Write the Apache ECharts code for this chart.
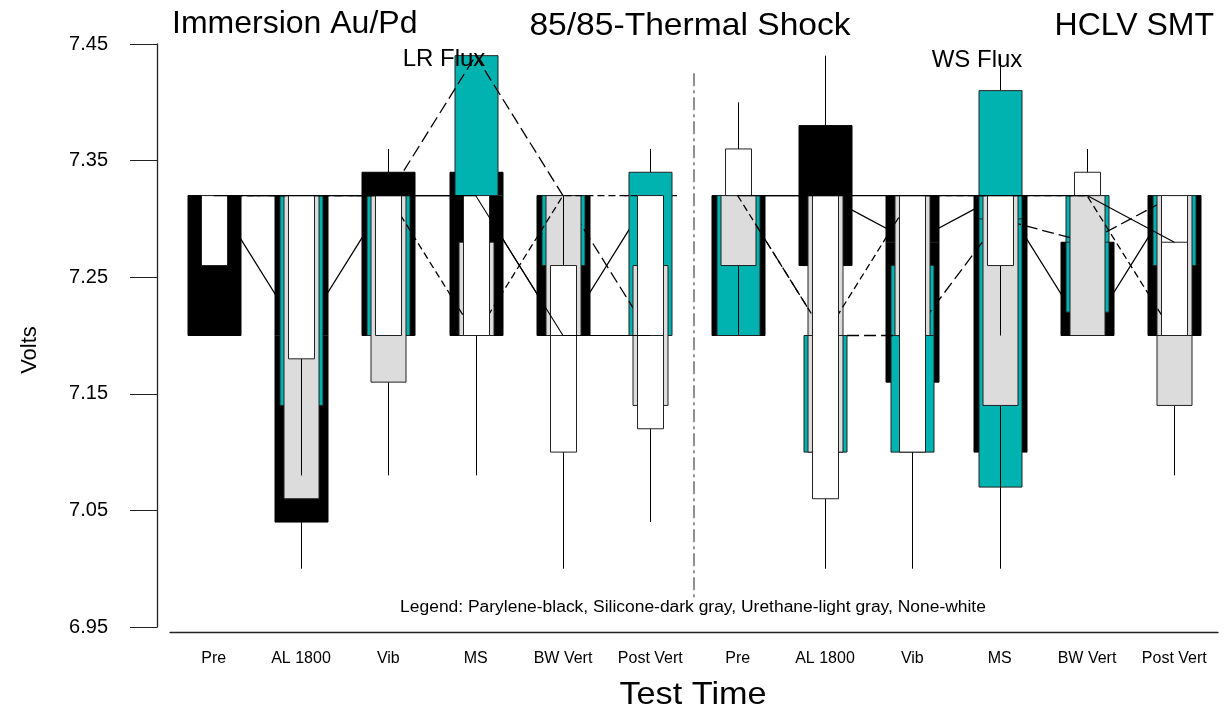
<!DOCTYPE html>
<html>
<head>
<meta charset="utf-8">
<script src="https://cdn.jsdelivr.net/npm/echarts@6/dist/echarts.min.js"></script>
<style>html,body{margin:0;padding:0;background:#fff}#c{width:1227px;height:715px}</style>
</head>
<body>
<div id="c"></div>
<script>
// ---------- data ----------
const categories = ['Pre','AL 1800','Vib','MS','BW Vert','Post Vert','Pre','AL 1800','Vib','MS','BW Vert','Post Vert'];
const yTicks = [6.95, 7.05, 7.15, 7.25, 7.35, 7.45];

// Parylene (black)
const paryQ1  = [7.20, 7.04, 7.20, 7.20, 7.20, 7.32, 7.20, 7.26, 7.16, 7.10, 7.20, 7.20];
const paryQ3  = [7.32, 7.32, 7.34, 7.34, 7.32, 7.32, 7.32, 7.38, 7.32, 7.32, 7.28, 7.32];
const paryMed = [7.32, 7.20, 7.32, 7.32, 7.20, 7.32, 7.32, 7.32, 7.28, 7.32, 7.20, 7.32];
const paryMin = [7.20, 7.00, 7.20, 7.20, 7.20, 7.32, 7.20, 7.26, 7.16, 7.10, 7.20, 7.20];
const paryMax = [7.32, 7.32, 7.36, 7.34, 7.32, 7.32, 7.32, 7.44, 7.32, 7.32, 7.28, 7.32];

// Silicone (teal)
const siliQ1  = [7.32, 7.14, 7.20, 7.32, 7.26, 7.20, 7.20, 7.10, 7.10, 7.07, 7.22, 7.26];
const siliQ3  = [7.32, 7.32, 7.32, 7.44, 7.32, 7.34, 7.32, 7.20, 7.26, 7.41, 7.32, 7.32];
const siliMed = [7.32, 7.32, 7.32, 7.44, 7.32, 7.20, 7.32, 7.20, 7.20, 7.30, 7.28, 7.32];
const siliMin = [7.32, 7.14, 7.20, 7.32, 7.26, 7.20, 7.20, 7.10, 7.10, 7.07, 7.22, 7.26];
const siliMax = [7.32, 7.32, 7.32, 7.44, 7.32, 7.36, 7.32, 7.20, 7.26, 7.44, 7.32, 7.32];

// Urethane (light gray)
const ureQ1  = [7.32, 7.06, 7.16, 7.20, 7.20, 7.14, 7.26, 7.10, 7.20, 7.14, 7.20, 7.14];
const ureQ3  = [7.32, 7.32, 7.32, 7.28, 7.32, 7.26, 7.32, 7.32, 7.32, 7.32, 7.32, 7.32];
const ureMed = [7.32, 7.32, 7.32, 7.20, 7.32, 7.32, 7.32, 7.20, 7.32, 7.32, 7.32, 7.20];
const ureMin = [7.32, 7.06, 7.08, 7.20, 7.20, 7.14, 7.20, 7.10, 7.20, 7.00, 7.20, 7.08];
const ureMax = [7.32, 7.32, 7.32, 7.28, 7.32, 7.26, 7.32, 7.32, 7.32, 7.32, 7.32, 7.32];

// None (white)
const noneQ1  = [7.26, 7.18, 7.20, 7.20, 7.10, 7.12, 7.32, 7.06, 7.10, 7.26, 7.32, 7.20];
const noneQ3  = [7.32, 7.32, 7.32, 7.32, 7.26, 7.32, 7.36, 7.32, 7.32, 7.32, 7.34, 7.32];
const noneMed = [7.32, 7.32, 7.32, 7.32, 7.20, 7.20, 7.32, 7.32, 7.32, 7.32, 7.32, 7.28];
const noneMin = [7.26, 7.08, 7.20, 7.08, 7.00, 7.04, 7.32, 7.00, 7.00, 7.20, 7.32, 7.20];
const noneMax = [7.32, 7.32, 7.32, 7.32, 7.32, 7.32, 7.40, 7.32, 7.32, 7.32, 7.36, 7.32];

// ---------- chart ----------
const FONT = '"Liberation Sans", Arial, sans-serif';
const TEAL = '#00B3B0';
const GRAY = '#DCDCDC';

function boxSeries(name, fill, stroke, widthPx, q1, q3, med, lo, hi, z) {
  const data = categories.map((c, i) => [i, lo[i], q1[i], med[i], q3[i], hi[i]]);
  return {
    type: 'custom', name, xAxisIndex: 1, yAxisIndex: 0, z, data,
    encode: { x: 0, y: [1, 2, 3, 4, 5] },
    renderItem: function (params, api) {
      const x = api.value(0);
      const pLo = api.coord([x, api.value(1)]);
      const pQ1 = api.coord([x, api.value(2)]);
      const pMed = api.coord([x, api.value(3)]);
      const pQ3 = api.coord([x, api.value(4)]);
      const pHi = api.coord([x, api.value(5)]);
      const cx = Math.round(pQ1[0]) + 0.5;
      const hw = widthPx / 2;
      const ch = [];
      const ls = { stroke: '#000', lineWidth: 1 };
      if (pHi[1] < pQ3[1] - 0.5) ch.push({ type: 'line', shape: { x1: cx, y1: pQ3[1], x2: cx, y2: pHi[1] }, style: ls });
      if (pLo[1] > pQ1[1] + 0.5) ch.push({ type: 'line', shape: { x1: cx, y1: pQ1[1], x2: cx, y2: pLo[1] }, style: ls });
      const h = pQ1[1] - pQ3[1];
      if (h < 0.5) {
        ch.push({ type: 'line', shape: { x1: cx - hw, y1: pQ3[1], x2: cx + hw, y2: pQ3[1] }, style: { stroke: '#000', lineWidth: 1.2 } });
      } else {
        ch.push({ type: 'rect', shape: { x: cx - hw, y: pQ3[1], width: widthPx, height: h }, style: { fill: fill, stroke: stroke, lineWidth: 1 } });
        if (pMed[1] > pQ3[1] + 0.5 && pMed[1] < pQ1[1] - 0.5) {
          ch.push({ type: 'line', shape: { x1: cx - hw, y1: pMed[1], x2: cx + hw, y2: pMed[1] }, style: { stroke: '#222', lineWidth: 1 } });
        }
      }
      return { type: 'group', children: ch };
    }
  };
}

function medianLines(med, dash, width, z) {
  const out = [];
  [[0, 6], [6, 12]].forEach(([a, b]) => {
    out.push({
      type: 'line', xAxisIndex: 1, yAxisIndex: 0, z: z, symbol: 'none', silent: true,
      data: med.slice(a, b).map((v, k) => [a + k, v]),
      lineStyle: { color: '#000', width: width, type: dash }
    });
  });
  return out;
}

const half = categories.length / 2 - 0.5;
const dividerTop = 7.425, dividerBottom = 6.975;

const series = [
  boxSeries('Parylene', '#000', '#000', 53, paryQ1, paryQ3, paryMed, paryMin, paryMax, 2),
  ...medianLines(paryMed, 'solid', 1.3, 3),
  boxSeries('Silicone', TEAL, '#222', 43, siliQ1, siliQ3, siliMed, siliMin, siliMax, 4),
  ...medianLines(siliMed, [12, 5], 1.3, 5),
  boxSeries('Urethane', GRAY, '#222', 35, ureQ1, ureQ3, ureMed, ureMin, ureMax, 6),
  ...medianLines(ureMed, [7, 4], 1.3, 7),
  boxSeries('None', '#fff', '#222', 26, noneQ1, noneQ3, noneMed, noneMin, noneMax, 8),
  ...medianLines(noneMed, 'solid', 1.1, 9),
  {
    type: 'line', xAxisIndex: 1, yAxisIndex: 0, z: 1, symbol: 'none', silent: true,
    data: [[half, dividerTop], [half, dividerBottom]],
    lineStyle: { color: '#555', width: 1.3, type: [13, 4, 3, 4] }
  }
];

const chart = echarts.init(document.getElementById('c'), null, { renderer: 'canvas' });
chart.setOption({
  animation: false,
  backgroundColor: '#fff',
  textStyle: { fontFamily: FONT },
  grid: { left: 170, right: 9, top: 44, bottom: 88 },
  xAxis: [
    {
      type: 'category', data: categories, position: 'bottom', offset: 5, boundaryGap: true,
      axisLine: { onZero: false, lineStyle: { color: '#222', width: 1.3 } },
      axisTick: { alignWithLabel: true, length: 14, lineStyle: { color: '#222' } },
      axisLabel: { color: '#000', fontSize: 16, fontFamily: FONT, margin: 19, interval: 0 },
      splitLine: { show: false }
    },
    { type: 'value', min: -0.5, max: categories.length - 0.5, show: false, axisLine: { onZero: false } }
  ],
  yAxis: {
    type: 'value', min: yTicks[0], max: yTicks[yTicks.length - 1], interval: 0.1, offset: 13, position: 'left',
    axisLine: { show: true, onZero: false, lineStyle: { color: '#222', width: 1.3 } },
    axisTick: { show: true, length: 27, lineStyle: { color: '#222' } },
    axisLabel: { color: '#000', fontSize: 20, fontFamily: FONT, margin: 49, formatter: v => v.toFixed(2) },
    splitLine: { show: false }
  },
  graphic: [
    { type: 'text', left: 172, top: 8, style: { text: 'Immersion Au/Pd', font: '32px ' + FONT, fill: '#000' } },
    { type: 'text', x: 690, y: 26, scaleX: 1.05, style: { text: '85/85-Thermal Shock', font: '32px ' + FONT, fill: '#000', textAlign: 'center', textVerticalAlign: 'middle' } },
    { type: 'text', x: 1214, y: 26, style: { text: 'HCLV SMT', font: '32px ' + FONT, fill: '#000', textAlign: 'right', textVerticalAlign: 'middle' } },
    { type: 'text', x: 444, y: 59, z: 20, style: { text: 'LR Flux', font: '24px ' + FONT, fill: '#000', textAlign: 'center', textVerticalAlign: 'middle' } },
    { type: 'text', x: 977, y: 60, z: 20, style: { text: 'WS Flux', font: '24px ' + FONT, fill: '#000', textAlign: 'center', textVerticalAlign: 'middle' } },
    { type: 'text', x: 693, y: 608, scaleX: 1.09, style: { text: 'Legend: Parylene-black, Silicone-dark gray, Urethane-light gray, None-white', font: '16px ' + FONT, fill: '#000', textAlign: 'center', textVerticalAlign: 'middle' } },
    { type: 'text', x: 693, y: 695, scaleX: 1.07, style: { text: 'Test Time', font: '32px ' + FONT, fill: '#000', textAlign: 'center', textVerticalAlign: 'middle' } },
    { type: 'text', x: 30, y: 350, rotation: Math.PI / 2, style: { text: 'Volts', font: '22px ' + FONT, fill: '#000', textAlign: 'center', textVerticalAlign: 'middle' } }
  ],
  series: series
});
</script>
</body>
</html>
